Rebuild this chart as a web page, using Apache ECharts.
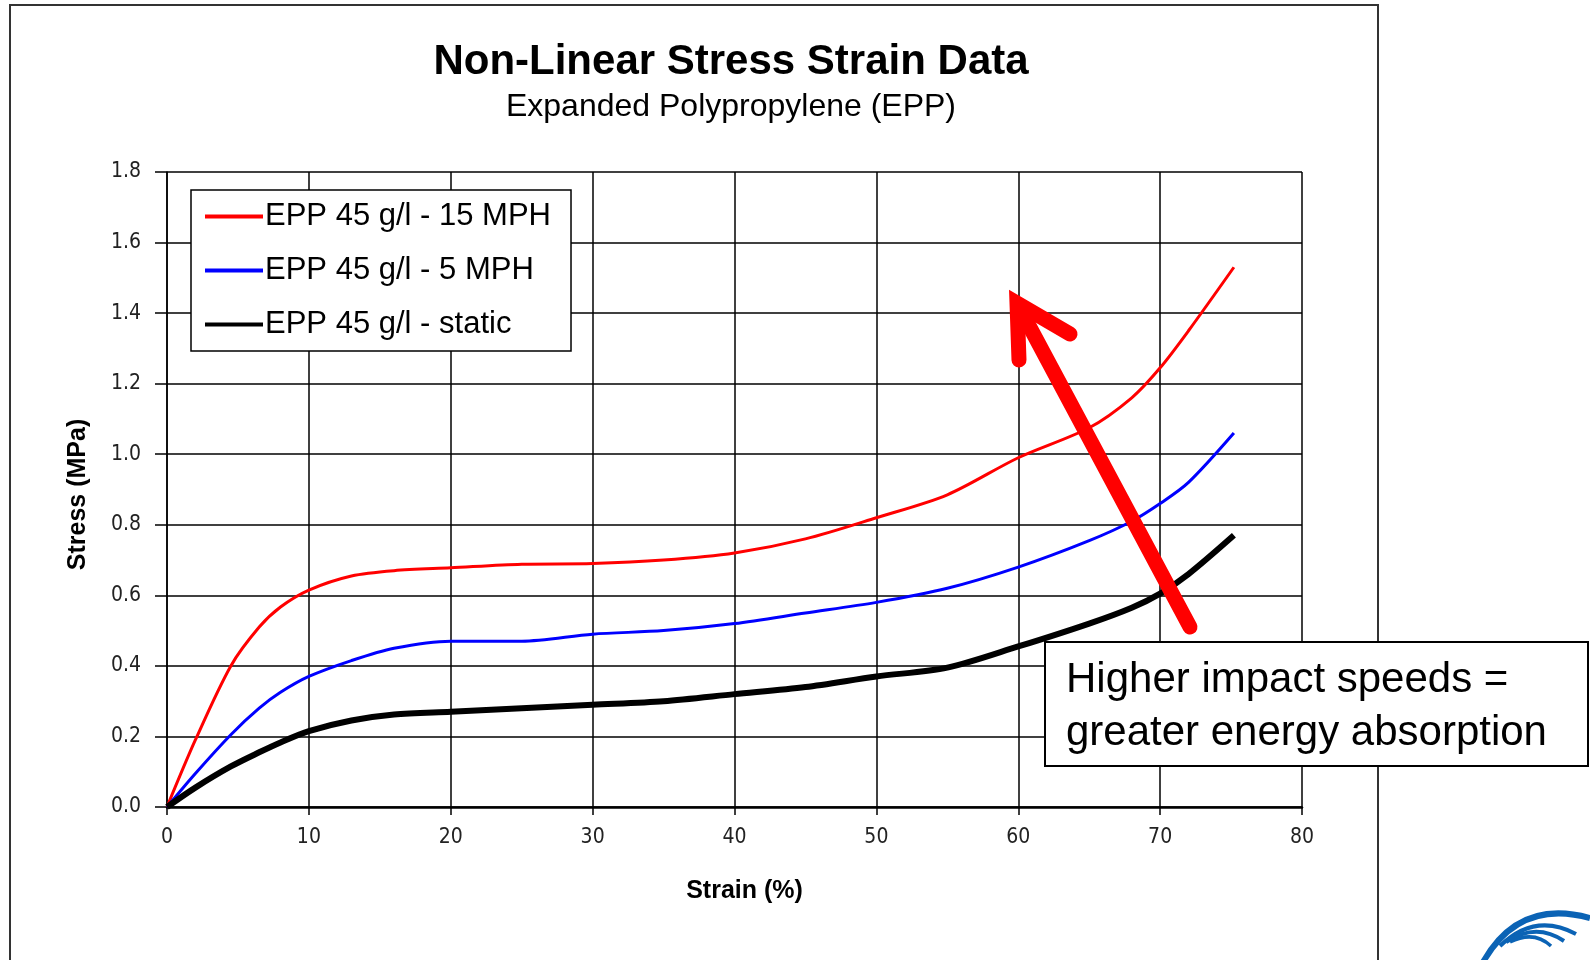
<!DOCTYPE html>
<html><head><meta charset="utf-8">
<script src="https://cdn.jsdelivr.net/npm/echarts@6/dist/echarts.min.js"></script>
<style>html,body{margin:0;padding:0;background:#fff}#c{width:1590px;height:960px}</style>
</head><body><div id="c"></div>
<script>
const strain = [0, 2, 4.5, 6.5, 8, 10, 13, 16, 20, 25, 30, 35, 40, 45, 50, 55, 60, 65, 68, 70, 72, 75.2];
const stress15 = [0, 0.19, 0.4, 0.51, 0.567, 0.615, 0.655, 0.67, 0.678, 0.688, 0.69, 0.70, 0.72, 0.76, 0.82, 0.885, 0.99, 1.075, 1.16, 1.245, 1.35, 1.53];
const stress5 = [0, 0.095, 0.205, 0.28, 0.325, 0.37, 0.415, 0.45, 0.47, 0.47, 0.49, 0.50, 0.52, 0.55, 0.58, 0.62, 0.68, 0.755, 0.81, 0.86, 0.92, 1.06];
const stressStatic = [0, 0.055, 0.115, 0.155, 0.183, 0.215, 0.245, 0.262, 0.27, 0.28, 0.29, 0.30, 0.32, 0.34, 0.37, 0.395, 0.455, 0.52, 0.565, 0.605, 0.66, 0.77];
const seriesNames = ['EPP 45 g/l - 15 MPH', 'EPP 45 g/l - 5 MPH', 'EPP 45 g/l - static'];
const seriesColors = ['#ff0000', '#0000ff', '#000000'];
const titleText = 'Non-Linear Stress Strain Data';
const subtitleText = 'Expanded Polypropylene (EPP)';
const noteLines = ['Higher impact speeds =', 'greater energy absorption'];

const pairs = ys => strain.map((x, i) => [x, ys[i]]);
const chart = echarts.init(document.getElementById('c'), null, {renderer: 'canvas'});
const sans = '"Liberation Sans", Arial, sans-serif';
const tickFont = {fontFamily: '"DejaVu Sans Condensed", "Liberation Sans", sans-serif', fontSize: 21, color: '#222'};
chart.setOption({
  animation: false,
  backgroundColor: '#fff',
  title: {
    text: titleText, subtext: subtitleText, left: 726, top: 36, textAlign: 'center', itemGap: 8,
    textStyle: {fontFamily: sans, fontWeight: 'bold', fontSize: 42, color: '#000'},
    subtextStyle: {fontFamily: sans, fontSize: 32, color: '#000'}
  },
  grid: {left: 167, top: 172, width: 1135, height: 635, show: false},
  xAxis: {
    type: 'value', min: 0, max: 80, interval: 10,
    name: 'Strain (%)', nameLocation: 'middle', nameGap: 72,
    nameTextStyle: {fontFamily: sans, fontWeight: 'bold', fontSize: 25, color: '#000', padding: [0, 0, 0, 20]},
    axisLine: {lineStyle: {color: '#000', width: 2.5}},
    axisTick: {length: 8, lineStyle: {color: '#000', width: 1.5}},
    axisLabel: Object.assign({margin: 20}, tickFont),
    splitLine: {show: true, lineStyle: {color: '#000', width: 1.5}}
  },
  yAxis: {
    type: 'value', min: 0, max: 1.8, interval: 0.2,
    name: 'Stress (MPa)', nameLocation: 'middle', nameGap: 76, nameRotate: 90,
    nameTextStyle: {fontFamily: sans, fontWeight: 'bold', fontSize: 25, color: '#000', padding: [0, 10, 0, 0]},
    axisLine: {show: true, lineStyle: {color: '#000', width: 1.5}},
    axisTick: {show: true, length: 12, lineStyle: {color: '#000', width: 1.5}},
    axisLabel: Object.assign({margin: 26, formatter: v => v.toFixed(1)}, tickFont),
    splitLine: {show: true, lineStyle: {color: '#000', width: 1.5}}
  },
  legend: {
    orient: 'vertical', left: 191, top: 190,
    backgroundColor: '#fff', borderColor: '#000', borderWidth: 1.5, borderRadius: 0,
    padding: [11, 20, 11, 14], itemGap: 23, itemWidth: 58, itemHeight: 4,
    icon: 'rect',
    textStyle: {fontFamily: sans, fontSize: 31, lineHeight: 30, color: '#000', padding: [0, 0, 0, -3]},
    data: seriesNames.map((n, i) => ({name: n, icon: 'rect', itemStyle: {color: seriesColors[i]}}))
  },
  series: seriesNames.map((n, i) => ({
    name: n, type: 'line', data: pairs([stress15, stress5, stressStatic][i]), smooth: 0.3,
    showSymbol: false, symbol: 'none',
    lineStyle: {color: seriesColors[i], width: i === 2 ? 6 : 3}, itemStyle: {color: seriesColors[i]}, z: 3
  })),
  graphic: [
    {type: 'rect', shape: {x: 10, y: 5, width: 1368, height: 1000}, style: {fill: 'none', stroke: '#333', lineWidth: 2}, z: -10, silent: true},
    {type: 'polyline', shape: {points: [[1190, 627], [1018, 305]]}, style: {stroke: '#ff0000', lineWidth: 15, lineCap: 'round', fill: 'none'}, z: 50},
    {type: 'polyline', shape: {points: [[1019, 360], [1017, 303], [1070, 334]]}, style: {stroke: '#ff0000', lineWidth: 15, lineCap: 'round', lineJoin: 'miter', fill: 'none'}, z: 50},
    {type: 'rect', shape: {x: 1045, y: 642, width: 543, height: 124}, style: {fill: '#fff', stroke: '#000', lineWidth: 2}, z: 60},
    {type: 'text', x: 1066, y: 654, style: {text: noteLines.join('\n'), fontFamily: sans, fontSize: 42, lineHeight: 53, fill: '#000'}, z: 61},
    {type: 'bezierCurve', shape: {x1: 1482, y1: 964, cpx1: 1518, cpy1: 898, x2: 1590, y2: 918}, style: {stroke: '#0b63b5', lineWidth: 6, fill: 'none'}, z: 5},
    {type: 'bezierCurve', shape: {x1: 1500, y1: 946, cpx1: 1535, cpy1: 912, x2: 1576, y2: 934}, style: {stroke: '#0b63b5', lineWidth: 4, fill: 'none'}, z: 5},
    {type: 'bezierCurve', shape: {x1: 1506, y1: 942, cpx1: 1536, cpy1: 922, x2: 1564, y2: 941}, style: {stroke: '#0b63b5', lineWidth: 4, fill: 'none'}, z: 5},
    {type: 'bezierCurve', shape: {x1: 1510, y1: 942, cpx1: 1534, cpy1: 930, x2: 1551, y2: 946}, style: {stroke: '#0b63b5', lineWidth: 3.5, fill: 'none'}, z: 5}
  ]
});
</script></body></html>
